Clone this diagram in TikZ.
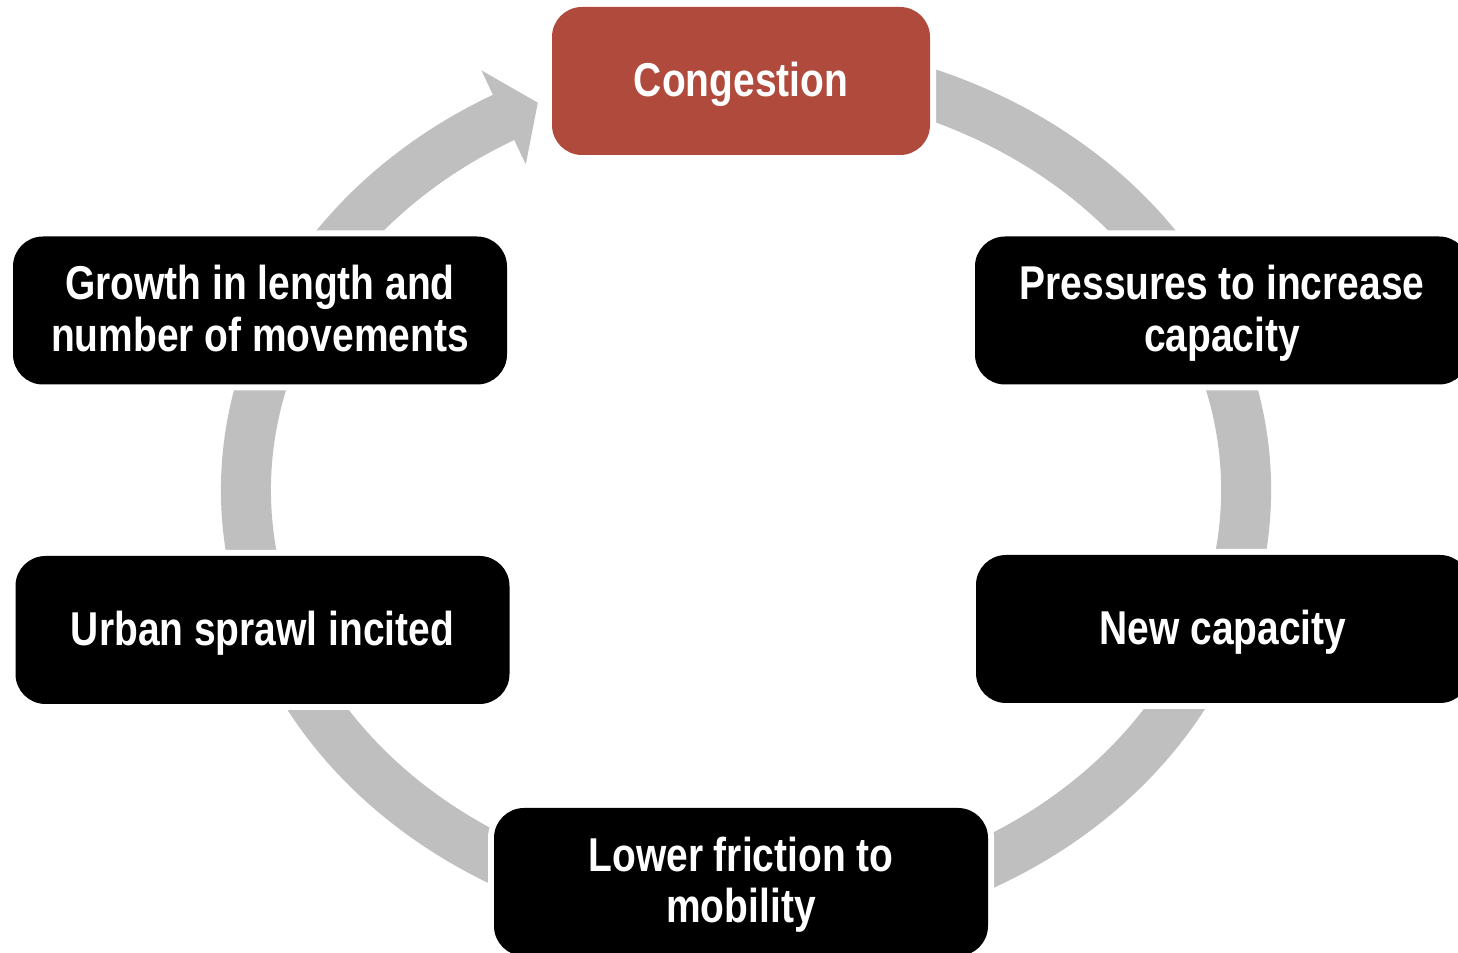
\documentclass[tikz,border=0pt]{standalone}
\usepackage{fontspec}
\setmainfont{Liberation Sans}[FakeStretch=0.82]
\usetikzlibrary{calc}
\definecolor{ringgrey}{HTML}{BFBFBF}
\definecolor{congred}{HTML}{B04A3C}
\pgfdeclarelayer{bg}
\pgfsetlayers{bg,main}
\newcommand\lnstrut{\rule[-5.3pt]{0pt}{25.8pt}}
\begin{document}
\begin{tikzpicture}[x=0.5pt,y=0.5pt,
  box/.style={rounded corners=15pt, fill=black, draw=none,
    minimum width=247pt, minimum height=74pt, inner sep=0pt, outer sep=0pt,
    align=center, text=white,
    font=\bfseries\fontsize{23.75pt}{25.8pt}\selectfont},
  redbox/.style={box, fill=congred, minimum width=189pt},
  halo/.style={fill=white, rounded corners=18pt},
  ringline/.style={draw=ringgrey, line width=25pt}]
\clip (0,0) rectangle (1458,953);
% boxes
\node[redbox] (cong) at (741,872) {\lnstrut Congestion};
\node[box] (press) at (1222,642.5) {\lnstrut Pressures to increase\\\lnstrut capacity};
\node[box] (newc) at (1223,324) {\lnstrut New capacity};
\node[box] (lower) at (741,71) {\lnstrut Lower friction to\\\lnstrut mobility};
\node[box] (urban) at (262.5,323) {\lnstrut Urban sprawl incited};
\node[box] (growth) at (260,642.5) {\lnstrut Growth in length and\\\lnstrut number of movements};
\begin{pgfonlayer}{bg}
  \coordinate (c) at (746,463);
  % grey cycle ring (clockwise), ending in an arrow pointing at Congestion
  \draw[ringline] ($(c)+(110:500 and 426)$)
    arc[start angle=110, end angle=-242, x radius=500, y radius=426];
  \coordinate (barbA) at (481.4,882.6);
  \coordinate (tip) at (537.8,850.3);
  \coordinate (barbB) at (525.8,788.6);
  \fill[ringgrey] (barbA) -- (tip) -- (barbB) -- cycle;
  % white halos that cut the ring around each box
  \foreach \n in {cong,press,newc,lower,urban,growth}
    \fill[halo] ($(\n.south west)+(-6,-6)$) rectangle ($(\n.north east)+(6,6)$);
\end{pgfonlayer}
\end{tikzpicture}
\end{document}
